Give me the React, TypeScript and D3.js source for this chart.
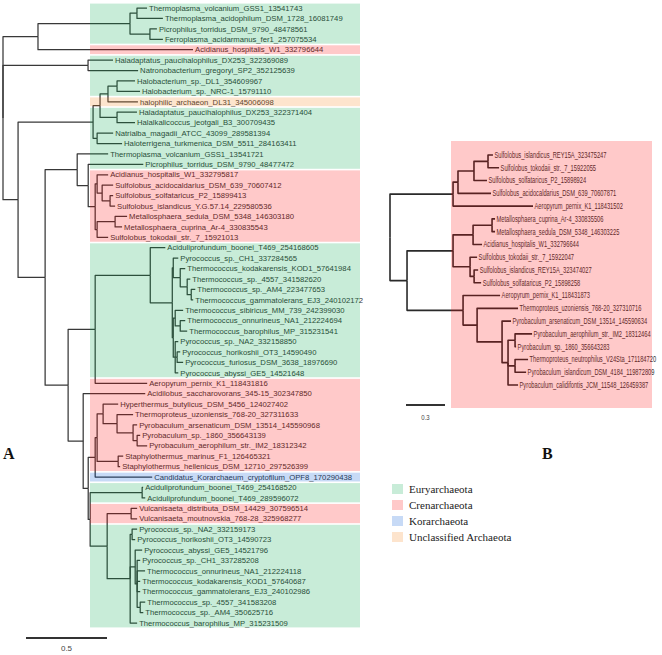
import React from 'react';
import * as d3 from 'd3';

// ---------- Tree A data ----------
const leavesA = [
  'Thermoplasma_volcanium_GSS1_13541743',
  'Thermoplasma_acidophilum_DSM_1728_16081749',
  'Picrophilus_torridus_DSM_9790_48478561',
  'Ferroplasma_acidarmanus_fer1_257075534',
  'Acidianus_hospitalis_W1_332796644',
  'Haladaptatus_paucihalophilus_DX253_322369089',
  'Natronobacterium_gregoryi_SP2_352125639',
  'Halobacterium_sp._DL1_354609967',
  'Halobacterium_sp._NRC-1_15791110',
  'halophilic_archaeon_DL31_345006098',
  'Haladaptatus_paucihalophilus_DX253_322371404',
  'Halalkalicoccus_jeotgali_B3_300709435',
  'Natrialba_magadii_ATCC_43099_289581394',
  'Haloterrigena_turkmenica_DSM_5511_284163411',
  'Thermoplasma_volcanium_GSS1_13541721',
  'Picrophilus_torridus_DSM_9790_48477472',
  'Acidianus_hospitalis_W1_332795817',
  'Sulfolobus_acidocaldarius_DSM_639_70607412',
  'Sulfolobus_solfataricus_P2_15899413',
  'Sulfolobus_islandicus_Y.G.57.14_229580536',
  'Metallosphaera_sedula_DSM_5348_146303180',
  'Metallosphaera_cuprina_Ar-4_330835543',
  'Sulfolobus_tokodaii_str._7_15921013',
  'Aciduliprofundum_boonei_T469_254168605',
  'Pyrococcus_sp._CH1_337284565',
  'Thermococcus_kodakarensis_KOD1_57641984',
  'Thermococcus_sp._4557_341582620',
  'Thermococcus_sp._AM4_223477653',
  'Thermococcus_gammatolerans_EJ3_240102172',
  'Thermococcus_sibiricus_MM_739_242399030',
  'Thermococcus_onnurineus_NA1_212224694',
  'Thermococcus_barophilus_MP_315231541',
  'Pyrococcus_sp._NA2_332158850',
  'Pyrococcus_horikoshii_OT3_14590490',
  'Pyrococcus_furiosus_DSM_3638_18976690',
  'Pyrococcus_abyssi_GE5_14521648',
  'Aeropyrum_pernix_K1_118431816',
  'Acidilobus_saccharovorans_345-15_302347850',
  'Hyperthermus_butylicus_DSM_5456_124027402',
  'Thermoproteus_uzoniensis_768-20_327311633',
  'Pyrobaculum_arsenaticum_DSM_13514_145590968',
  'Pyrobaculum_sp._1860_356643139',
  'Pyrobaculum_aerophilum_str._IM2_18312342',
  'Staphylothermus_marinus_F1_126465321',
  'Staphylothermus_hellenicus_DSM_12710_297526399',
  'Candidatus_Korarchaeum_cryptofilum_OPF8_170290438',
  'Aciduliprofundum_boonei_T469_254168520',
  'Aciduliprofundum_boonei_T469_289596072',
  'Vulcanisaeta_distributa_DSM_14429_307596514',
  'Vulcanisaeta_moutnovskia_768-28_325968277',
  'Pyrococcus_sp._NA2_332159173',
  'Pyrococcus_horikoshii_OT3_14590723',
  'Pyrococcus_abyssi_GE5_14521796',
  'Pyrococcus_sp._CH1_337285208',
  'Thermococcus_onnurineus_NA1_212224118',
  'Thermococcus_kodakarensis_KOD1_57640687',
  'Thermococcus_gammatolerans_EJ3_240102986',
  'Thermococcus_sp._4557_341583208',
  'Thermococcus_sp._AM4_350625716',
  'Thermococcus_barophilus_MP_315231509',
];

// E = Euryarchaeota, C = Crenarchaeota, K = Korarchaeota, U = Unclassified
const cladeA = [
  'E', 'E', 'E', 'E', 'C', 'E', 'E', 'E', 'E', 'U',
  'E', 'E', 'E', 'E', 'E', 'E', 'C', 'C', 'C', 'C',
  'C', 'C', 'C', 'E', 'E', 'E', 'E', 'E', 'E', 'E',
  'E', 'E', 'E', 'E', 'E', 'E', 'C', 'C', 'C', 'C',
  'C', 'C', 'C', 'C', 'C', 'K', 'E', 'E', 'C', 'C',
  'E', 'E', 'E', 'E', 'E', 'E', 'E', 'E', 'E', 'E',
];

// topology with branch lengths (leaf labels = index into leavesA)
const cladeThermoplasma = '(((0:0.062,1:0.160):0.043,(2:0.043,3:0.080):0.123):0.568,4:0.957)';
const cladeHalo = '((((7:0.111,8:0.142):0.056,9:0.185):0.049,(10:0.123,11:0.111):0.105):0.043,(12:0.099,13:0.154):0.025)';
const cladeSulfolobales = '(14:0.191,(15:0.340,((16:0.068,(17:0.068,(18:0.019,19:0.031):0.049):0.031):0.012,((20:0.074,21:0.043):0.111,22:0.068):0.012):0.043):0.068)';
const cladeThermococcales = '((23:0.093,((24:0.031,(25:0.031,(26:0.019,(27:0.025,28:0.012):0.025):0.043):0.043):0.006,((29:0.049,(30:0.031,31:0.043):0.031):0.012,(32:0.019,(33:0.019,34:0.037):0.012,35:0.019):0.012):0.006):0.136):0.340,36:0.321)';
const cladeThermoproteales = '(37:0.383,((((38:0.093,(39:0.099,(40:0.025,(41:0.019,42:0.062):0.025):0.099):0.086):0.037,(43:0.031,44:0.012):0.130):0.012,45:0.352):0.043,((46:0.006,47:0.019):0.321,((48:0.037,49:0.037):0.148,((50:0.031,51:0.019):0.012,(52:0.043,(53:0.019,54:0.049,55:0.019,56:0.019,(57:0.031,58:0.019):0.019):0.012):0.031,59:0.043):0.142):0.105):0.012):0.031)';
const newickA =
  '(' + cladeThermoplasma + ':0.216,(5:0.154,6:0.309):0.525,(' + cladeHalo + ':0.463,(' +
  cladeSulfolobales + ':0.198,(' + cladeThermococcales + ':0.167,' + cladeThermoproteales +
  ':0.093):0.142):0.167):0.093);';

// ---------- Tree B data ----------
const leavesB = [
  'Sulfolobus_islandicus_REY15A_323475247',
  'Sulfolobus_tokodaii_str._7_15922055',
  'Sulfolobus_solfataricus_P2_15898924',
  'Sulfolobus_acidocaldarius_DSM_639_70607871',
  'Aeropyrum_pernix_K1_118431502',
  'Metallosphaera_cuprina_Ar-4_330835506',
  'Metallosphaera_sedula_DSM_5348_146303225',
  'Acidianus_hospitalis_W1_332796644',
  'Sulfolobus_tokodaii_str._7_15922047',
  'Sulfolobus_islandicus_REY15A_323474027',
  'Sulfolobus_solfataricus_P2_15898258',
  'Aeropyrum_pernix_K1_118431873',
  'Thermoproteus_uzoniensis_768-20_327310716',
  'Pyrobaculum_arsenaticum_DSM_13514_145590634',
  'Pyrobaculum_aerophilum_str._IM2_18312464',
  'Pyrobaculum_sp._1860_356643283',
  'Thermoproteus_neutrophilus_V24Sta_171184720',
  'Pyrobaculum_islandicum_DSM_4184_119872809',
  'Pyrobaculum_calidifontis_JCM_11548_126459387',
];
const cladeB1 = '((((0:0.038,1:0.085):0.108,2:0.100):0.123,3:0.254):0.038,4:0.615)';
const cladeB2 = '(((5:0.023,6:0.023):0.146,7:0.069):0.154,(8:0.054,(9:0.031,10:0.054):0.031):0.131)';
const cladeB3 = '(11:0.285,(12:0.315,(13:0.069,((14:0.131,15:0.008):0.054,(16:0.100,17:0.085):0.054,18:0.077):0.046):0.192):0.108)';
const newickB = '(' + cladeB1 + ':0.485,(' + cladeB2 + ':0.354,' + cladeB3 + ':0.431):0.131);';

const legendLabels = ['Euryarchaeota', 'Crenarchaeota', 'Korarchaeota', 'Unclassified Archaeota'];
const legendKeys = ['E', 'C', 'K', 'U'];
const scaleBarA = 0.5;
const scaleBarB = 0.3;

const overlay: Record<string, string> = {
  E: 'rgb(4,168,77)',
  C: 'rgb(255,9,9)',
  K: 'rgb(0,86,214)',
  U: 'rgb(245,132,27)',
};
const OVERLAY_OPACITY = 0.22;

type NNode = { name: string; length: number; children: NNode[] };

function parseNewick(s: string): NNode {
  let i = 0;
  function node(): NNode {
    const n: NNode = { name: '', length: 0, children: [] };
    if (s[i] === '(') {
      i++;
      n.children.push(node());
      while (s[i] === ',') {
        i++;
        n.children.push(node());
      }
      i++; // ')'
    }
    let name = '';
    while (i < s.length && !',():;'.includes(s[i])) name += s[i++];
    n.name = name;
    if (s[i] === ':') {
      i++;
      let num = '';
      while (i < s.length && !',();'.includes(s[i])) num += s[i++];
      n.length = +num;
    }
    return n;
  }
  return node();
}

function layout(newick: string, x: d3.ScaleLinear<number, number>, y: d3.ScaleLinear<number, number>) {
  const root = d3.hierarchy<NNode>(parseNewick(newick), (d) => (d.children.length ? d.children : null));
  root.eachBefore((n: any) => {
    n.dist = (n.parent ? n.parent.dist : 0) + (n.parent ? n.data.length : 0);
    n.px = x(n.dist);
  });
  root.eachAfter((n: any) => {
    if (n.children) {
      n.py = (n.children[0].py + n.children[n.children.length - 1].py) / 2;
    } else {
      n.py = y(+n.data.name);
    }
  });
  const paths: string[] = [];
  root.each((n: any) => {
    if (n.parent) {
      paths.push(`M${n.parent.px},${n.parent.py}V${n.py}H${n.px}`);
    }
  });
  return { root, paths, leaves: root.leaves() as any[] };
}

export default function App() {
  const W = 662;
  const H = 655;

  // Tree A scales
  const xA = d3.scaleLinear().domain([0, 1]).range([3, 165]);
  const yA = d3.scaleLinear().domain([0, leavesA.length - 1]).range([8, 623]);
  const A = layout(newickA, xA, yA);
  const stepA = yA(1) - yA(0);

  // Tree B scales
  const xB = d3.scaleLinear().domain([0, 1]).range([390, 520]);
  const yB = d3.scaleLinear().domain([0, leavesB.length - 1]).range([155, 385]);
  const B = layout(newickB, xB, yB);

  // band groups for tree A
  const groups: { key: string; s: number; e: number }[] = [];
  cladeA.forEach((c, i) => {
    const g = groups[groups.length - 1];
    if (g && g.key === c) g.e = i;
    else groups.push({ key: c, s: i, e: i });
  });

  const sans = '"Liberation Sans", Arial, Helvetica, sans-serif';
  const serif = '"Liberation Serif", "Times New Roman", serif';

  return (
    <svg width={W} height={H} style={{ position: 'absolute', left: 0, top: 0, background: '#fff' }}>
      {/* Tree A */}
      <g>
        {A.paths.map((d, i) => (
          <path key={i} d={d} fill="none" stroke="#383838" strokeWidth={1.25} strokeLinejoin="round" />
        ))}
        {A.leaves.map((n: any, i: number) => (
          <text key={i} x={n.px + 2} y={n.py} dy="0.35em" fontSize={7.7} fontFamily={sans} fill="#333">
            {leavesA[+n.data.name]}
          </text>
        ))}
        {groups.map((g, i) => (
          <rect
            key={i}
            x={90}
            width={270}
            y={yA(g.s) - stepA / 2 + 0.8}
            height={yA(g.e) - yA(g.s) + stepA - 1.6}
            fill={overlay[g.key]}
            fillOpacity={OVERLAY_OPACITY}
          />
        ))}
        {/* scale bar A */}
        <line x1={26} x2={26 + xA(scaleBarA) - xA(0)} y1={638} y2={638} stroke="#333" strokeWidth={1.8} />
        <text x={26 + (xA(scaleBarA) - xA(0)) / 2} y={648} dy="0.35em" textAnchor="middle" fontSize={8} fontFamily={sans} fill="#444">
          {scaleBarA}
        </text>
        <text x={3} y={459} fontSize={16} fontWeight="bold" fontFamily={serif} fill="#111">A</text>
      </g>

      {/* Tree B */}
      <g>
        {B.paths.map((d, i) => (
          <path key={i} d={d} fill="none" stroke="#2a2a2a" strokeWidth={1.6} strokeLinejoin="round" />
        ))}
        {B.leaves.map((n: any, i: number) => (
          <text
            key={i}
            transform={`translate(${n.px + 1.5},${n.py}) scale(0.69,1)`}
            dy="0.35em"
            fontSize={8.3}
            fontFamily={sans}
            fill="#333"
          >
            {leavesB[+n.data.name]}
          </text>
        ))}
        <rect x={451} y={141} width={201} height={267} fill={overlay.C} fillOpacity={OVERLAY_OPACITY} />
        <line x1={406} x2={406 + xB(scaleBarB) - xB(0)} y1={405} y2={405} stroke="#333" strokeWidth={1.8} />
        <text
          transform={`translate(${406 + (xB(scaleBarB) - xB(0)) / 2},${417}) scale(0.75,1)`}
          dy="0.35em"
          textAnchor="middle"
          fontSize={8}
          fontFamily={sans}
          fill="#444"
        >
          {scaleBarB}
        </text>
        <text x={542} y={459} fontSize={16} fontWeight="bold" fontFamily={serif} fill="#111">B</text>
      </g>

      {/* Legend */}
      <g>
        {legendLabels.map((l, i) => (
          <g key={l} transform={`translate(392,${489 + i * 16})`}>
            <rect x={0} y={-5} width={11} height={10} fill={overlay[legendKeys[i]]} fillOpacity={OVERLAY_OPACITY} />
            <text x={17} y={0} dy="0.35em" fontSize={11} fontFamily={serif} fill="#222">
              {l}
            </text>
          </g>
        ))}
      </g>
    </svg>
  );
}
